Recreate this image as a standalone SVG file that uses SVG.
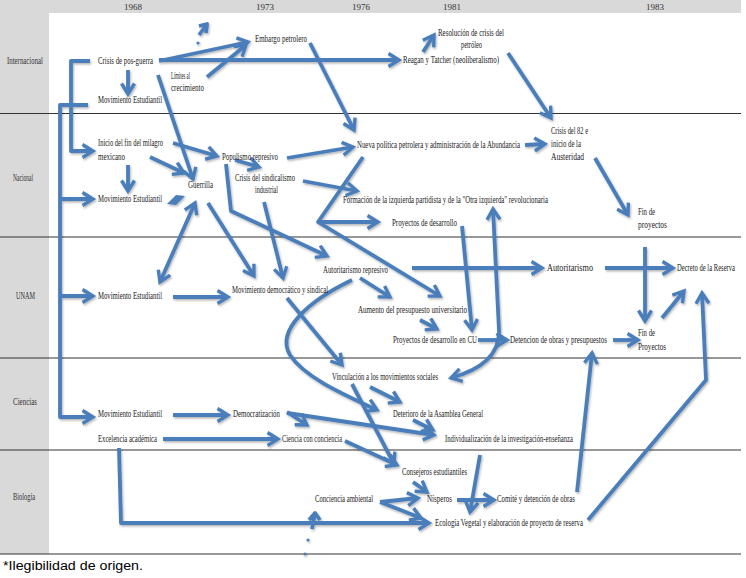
<svg xmlns="http://www.w3.org/2000/svg" width="746" height="578" viewBox="0 0 746 578">
<style>
.t{font-family:"Liberation Serif","DejaVu Serif",serif;font-size:9.5px;fill:#1a1a1a}
.lane{font-family:"Liberation Serif","DejaVu Serif",serif;font-size:9.5px;fill:#333}
.yr{font-family:"Liberation Serif","DejaVu Serif",serif;font-size:9px;fill:#333;text-anchor:middle}
.c{fill:none;stroke:#4a7ebb;stroke-width:3.8;stroke-linejoin:round}
.a{marker-end:url(#ah)}
.d{marker-start:url(#ah);marker-end:url(#ah)}
.sep{stroke:#333;stroke-width:1.2}
.foot{font-family:"Liberation Sans","Open Sans",sans-serif;font-size:12px;fill:#000}
</style>
<defs>
<marker id="ah" viewBox="0 0 16 16" refX="12.5" refY="8" markerWidth="16" markerHeight="16" markerUnits="userSpaceOnUse" orient="auto-start-reverse">
<path d="M2,1.5 L12.5,8 L2,14.5" fill="none" stroke="#4a7ebb" stroke-width="3.4"/>
</marker>
<filter id="sh" x="-5%" y="-5%" width="110%" height="110%">
<feDropShadow dx="1" dy="1.5" stdDeviation="0.8" flood-color="#000" flood-opacity="0.3"/>
</filter>
</defs>
<rect width="746" height="578" fill="#fff"/>
<g id="grid">
<rect x="0" y="0" width="741" height="13" fill="#d9d9d9"/>
<rect x="0" y="0" width="49" height="554" fill="#d9d9d9"/>
<line class="sep" x1="0" y1="113.5" x2="741" y2="113.5"/>
<line class="sep" x1="0" y1="237" x2="741" y2="237"/>
<line class="sep" x1="0" y1="358" x2="741" y2="358"/>
<line class="sep" x1="0" y1="450" x2="741" y2="450"/>
<line class="sep" x1="0" y1="554" x2="741" y2="554"/>
<text class="yr" x="133" y="9.5">1968</text>
<text class="yr" x="265" y="9.5">1973</text>
<text class="yr" x="361" y="9.5">1976</text>
<text class="yr" x="452" y="9.5">1981</text>
<text class="yr" x="655" y="9.5">1983</text>
<text class="lane" x="7" y="64" textLength="36" lengthAdjust="spacingAndGlyphs">Internacional</text>
<text class="lane" x="13" y="181" textLength="20" lengthAdjust="spacingAndGlyphs">Nacional</text>
<text class="lane" x="16" y="299" textLength="19" lengthAdjust="spacingAndGlyphs">UNAM</text>
<text class="lane" x="13" y="405" textLength="24" lengthAdjust="spacingAndGlyphs">Ciencias</text>
<text class="lane" x="13" y="500" textLength="22" lengthAdjust="spacingAndGlyphs">Biología</text>
</g>
<g id="connectors" filter="url(#sh)">
<path class="c a" d="M159,61 L248,42"/>
<path class="c a" d="M159,60 L399,60"/>
<path class="c a" d="M207,77 L246,45"/>
<path class="c a" d="M128,70 L128,94"/>
<path class="c a" d="M158,75 L193,179"/>
<path class="c a" d="M90,61 L71,61 L71,151 L93,151"/>
<path class="c a" d="M88,105 L60,105 L60,417 L93,417"/>
<path class="c a" d="M60,199 L93,199"/>
<path class="c a" d="M60,296 L93,296"/>
<path class="c a" d="M310,43 L354,130"/>
<path class="c a" d="M423,52 L434,35"/>
<path class="c a" d="M508,53 L551,118"/>
<path class="c a" d="M150,157 L184,173"/>
<path class="c a" d="M173,143 L217,156"/>
<path class="c a" d="M128,165 L128,191"/>
<path class="c a" d="M235,160 L259,167"/>
<path class="c a" d="M287,158 L353,147"/>
<path class="c a" d="M525,145 L545,144"/>
<path class="c a" d="M303,181 L357,191"/>
<path class="c a" d="M363,157 L318,222 L378,222"/>
<path class="c a" d="M318,222 L440,296"/>
<path class="c a" d="M462,226 L472,330"/>
<path class="c d" d="M493,209 L499,330 C500,355 480,370 451,378"/>
<path class="c a" d="M595,158 L628,215"/>
<path class="c d" d="M195,203 L160,282"/>
<path class="c a" d="M208,203 L254,276"/>
<path class="c a" d="M264,202 L283,278"/>
<path class="c a" d="M226,164 L231,211 L327,256"/>
<path class="c a" d="M173,297 L228,297"/>
<path class="c a" d="M360,278 L390,297"/>
<path class="c a" d="M420,320 L437,329"/>
<path class="c a" d="M478,340 L507,340"/>
<path class="c a" d="M412,268 L542,268"/>
<path class="c a" d="M605,268 L673,268"/>
<path class="c a" d="M645,247 L645,321"/>
<path class="c a" d="M613,340 L638,340"/>
<path class="c a" d="M662,318 L684,291"/>
<path class="c a" d="M588,520 L706,380 L702,293"/>
<path class="c a" d="M577,492 L592,353"/>
<path class="c a" d="M287,298 L342,365"/>
<path class="c a" d="M352,280 C310,300 275,330 290,355 C305,378 345,395 377,410"/>
<path class="c a" d="M352,384 L394,464"/>
<path class="c a" d="M370,387 L400,402"/>
<path class="c a" d="M173,415 L228,415"/>
<path class="c a" d="M287,412 L307,425"/>
<path class="c a" d="M287,413 L434,435"/>
<path class="c a" d="M413,420 L433,430"/>
<path class="c a" d="M163,439 L278,439"/>
<path class="c a" d="M119,448 L121,523 L429,523"/>
<path class="c a" d="M345,441 L397,465"/>
<path class="c a" d="M413,482 L427,492"/>
<path class="c a" d="M380,502 L418,498"/>
<path class="c a" d="M380,502 L421,518"/>
<path class="c a" d="M457,500 L494,500"/>
<path class="c a" d="M480,455 L470,512"/>
<path class="c" d="M199,35 L207,24 M199,26 L207,24 L206,33"/>
<circle cx="198" cy="43" r="1.6" fill="#4a7ebb"/>
<path class="c" d="M312,529 L315,513 M309,520 L315,513 L320,520"/>
<circle cx="308" cy="540" r="1.6" fill="#4a7ebb"/>
<circle cx="305" cy="554" r="1.6" fill="#4a7ebb"/>
<polygon points="176,195 185,196 176,205 167,204" fill="#4a7ebb"/>
</g>
<g id="n-crisis-posguerra"><text class="t" x="98" y="64" textLength="55" lengthAdjust="spacingAndGlyphs">Crisis de pos-guerra</text></g>
<g id="n-limites"><text class="t" x="171" y="79" textLength="19" lengthAdjust="spacingAndGlyphs">Límites al</text><text class="t" x="171" y="91" textLength="33" lengthAdjust="spacingAndGlyphs">crecimiento</text></g>
<g id="n-movest-int"><text class="t" x="98" y="103" textLength="64" lengthAdjust="spacingAndGlyphs">Movimiento Estudiantil</text></g>
<g id="n-embargo"><text class="t" x="255" y="42" textLength="52" lengthAdjust="spacingAndGlyphs">Embargo petrolero</text></g>
<g id="n-reagan"><text class="t" x="403" y="63" textLength="96" lengthAdjust="spacingAndGlyphs">Reagan y Tatcher (neoliberalismo)</text></g>
<g id="n-resolucion"><text class="t" x="438" y="36" textLength="66" lengthAdjust="spacingAndGlyphs">Resolución de crisis del</text><text class="t" x="461" y="48" textLength="21" lengthAdjust="spacingAndGlyphs">petróleo</text></g>
<g id="n-inicio"><text class="t" x="98" y="146" textLength="65" lengthAdjust="spacingAndGlyphs">Inicio del fin del milagro</text><text class="t" x="98" y="160" textLength="27" lengthAdjust="spacingAndGlyphs">mexicano</text></g>
<g id="n-movest-nac"><text class="t" x="98" y="202" textLength="64" lengthAdjust="spacingAndGlyphs">Movimiento Estudiantil</text></g>
<g id="n-guerrilla"><text class="t" x="188" y="188" textLength="25" lengthAdjust="spacingAndGlyphs">Guerrilla</text></g>
<g id="n-populismo"><text class="t" x="222" y="160" textLength="56" lengthAdjust="spacingAndGlyphs">Populismo represivo</text></g>
<g id="n-sindicalismo"><text class="t" x="235" y="181" textLength="60" lengthAdjust="spacingAndGlyphs">Crisis del sindicalismo</text><text class="t" x="255" y="193" textLength="23" lengthAdjust="spacingAndGlyphs">industrial</text></g>
<g id="n-nueva"><text class="t" x="357" y="148" textLength="163" lengthAdjust="spacingAndGlyphs">Nueva política petrolera y administración de la Abundancia</text></g>
<g id="n-crisis82"><text class="t" x="551" y="134" textLength="37" lengthAdjust="spacingAndGlyphs">Crisis del 82 e</text><text class="t" x="551" y="147" textLength="30" lengthAdjust="spacingAndGlyphs">inicio de la</text><text class="t" x="551" y="160" textLength="33" lengthAdjust="spacingAndGlyphs">Austeridad</text></g>
<g id="n-formacion"><text class="t" x="343" y="203" textLength="205" lengthAdjust="spacingAndGlyphs">Formación de la izquierda partidista y de la "Otra izquierda" revolucionaria</text></g>
<g id="n-proyectos"><text class="t" x="392" y="226" textLength="65" lengthAdjust="spacingAndGlyphs">Proyectos de desarrollo</text></g>
<g id="n-finproy-nac"><text class="t" x="638" y="215" textLength="17" lengthAdjust="spacingAndGlyphs">Fin de</text><text class="t" x="638" y="228" textLength="29" lengthAdjust="spacingAndGlyphs">proyectos</text></g>
<g id="n-movest-unam"><text class="t" x="98" y="299" textLength="64" lengthAdjust="spacingAndGlyphs">Movimiento Estudiantil</text></g>
<g id="n-movdem"><text class="t" x="232" y="293" textLength="96" lengthAdjust="spacingAndGlyphs">Movimiento democrático y sindical</text></g>
<g id="n-autrep"><text class="t" x="323" y="273" textLength="65" lengthAdjust="spacingAndGlyphs">Autoritarismo represivo</text></g>
<g id="n-aumento"><text class="t" x="358" y="313" textLength="109" lengthAdjust="spacingAndGlyphs">Aumento del presupuesto universitario</text></g>
<g id="n-proycu"><text class="t" x="393" y="343" textLength="84" lengthAdjust="spacingAndGlyphs">Proyectos de desarrollo en CU</text></g>
<g id="n-autoritarismo"><text class="t" x="547" y="271" textLength="46" lengthAdjust="spacingAndGlyphs">Autoritarismo</text></g>
<g id="n-decreto"><text class="t" x="677" y="271" textLength="58" lengthAdjust="spacingAndGlyphs">Decreto de la Reserva</text></g>
<g id="n-detencion"><text class="t" x="510" y="343" textLength="97" lengthAdjust="spacingAndGlyphs">Detencion de obras y presupuestos</text></g>
<g id="n-finproy-unam"><text class="t" x="638" y="336" textLength="17" lengthAdjust="spacingAndGlyphs">Fin de</text><text class="t" x="638" y="350" textLength="28" lengthAdjust="spacingAndGlyphs">Proyectos</text></g>
<g id="n-vinculacion"><text class="t" x="332" y="380" textLength="106" lengthAdjust="spacingAndGlyphs">Vinculación a los movimientos sociales</text></g>
<g id="n-movest-cien"><text class="t" x="98" y="417" textLength="64" lengthAdjust="spacingAndGlyphs">Movimiento Estudiantil</text></g>
<g id="n-democratizacion"><text class="t" x="233" y="417" textLength="47" lengthAdjust="spacingAndGlyphs">Democratización</text></g>
<g id="n-deterioro"><text class="t" x="393" y="417" textLength="90" lengthAdjust="spacingAndGlyphs">Deterioro de la Asamblea General</text></g>
<g id="n-excelencia"><text class="t" x="98" y="442" textLength="59" lengthAdjust="spacingAndGlyphs">Excelencia académica</text></g>
<g id="n-ciencia"><text class="t" x="282" y="442" textLength="60" lengthAdjust="spacingAndGlyphs">Ciencia con conciencia</text></g>
<g id="n-individualizacion"><text class="t" x="445" y="442" textLength="128" lengthAdjust="spacingAndGlyphs">Individualización de la investigación-enseñanza</text></g>
<g id="n-consejeros"><text class="t" x="402" y="475" textLength="65" lengthAdjust="spacingAndGlyphs">Consejeros estudiantiles</text></g>
<g id="n-conciencia-amb"><text class="t" x="315" y="502" textLength="58" lengthAdjust="spacingAndGlyphs">Conciencia ambiental</text></g>
<g id="n-nisperos"><text class="t" x="427" y="502" textLength="25" lengthAdjust="spacingAndGlyphs">Nísperos</text></g>
<g id="n-comite"><text class="t" x="497" y="502" textLength="78" lengthAdjust="spacingAndGlyphs">Comité y detención de obras</text></g>
<g id="n-ecologia"><text class="t" x="435" y="526" textLength="148" lengthAdjust="spacingAndGlyphs">Ecología Vegetal y elaboración de proyecto de reserva</text></g>
<text class="foot" x="3" y="570" textLength="140" lengthAdjust="spacingAndGlyphs">*Ilegibilidad de origen.</text>
</svg>
